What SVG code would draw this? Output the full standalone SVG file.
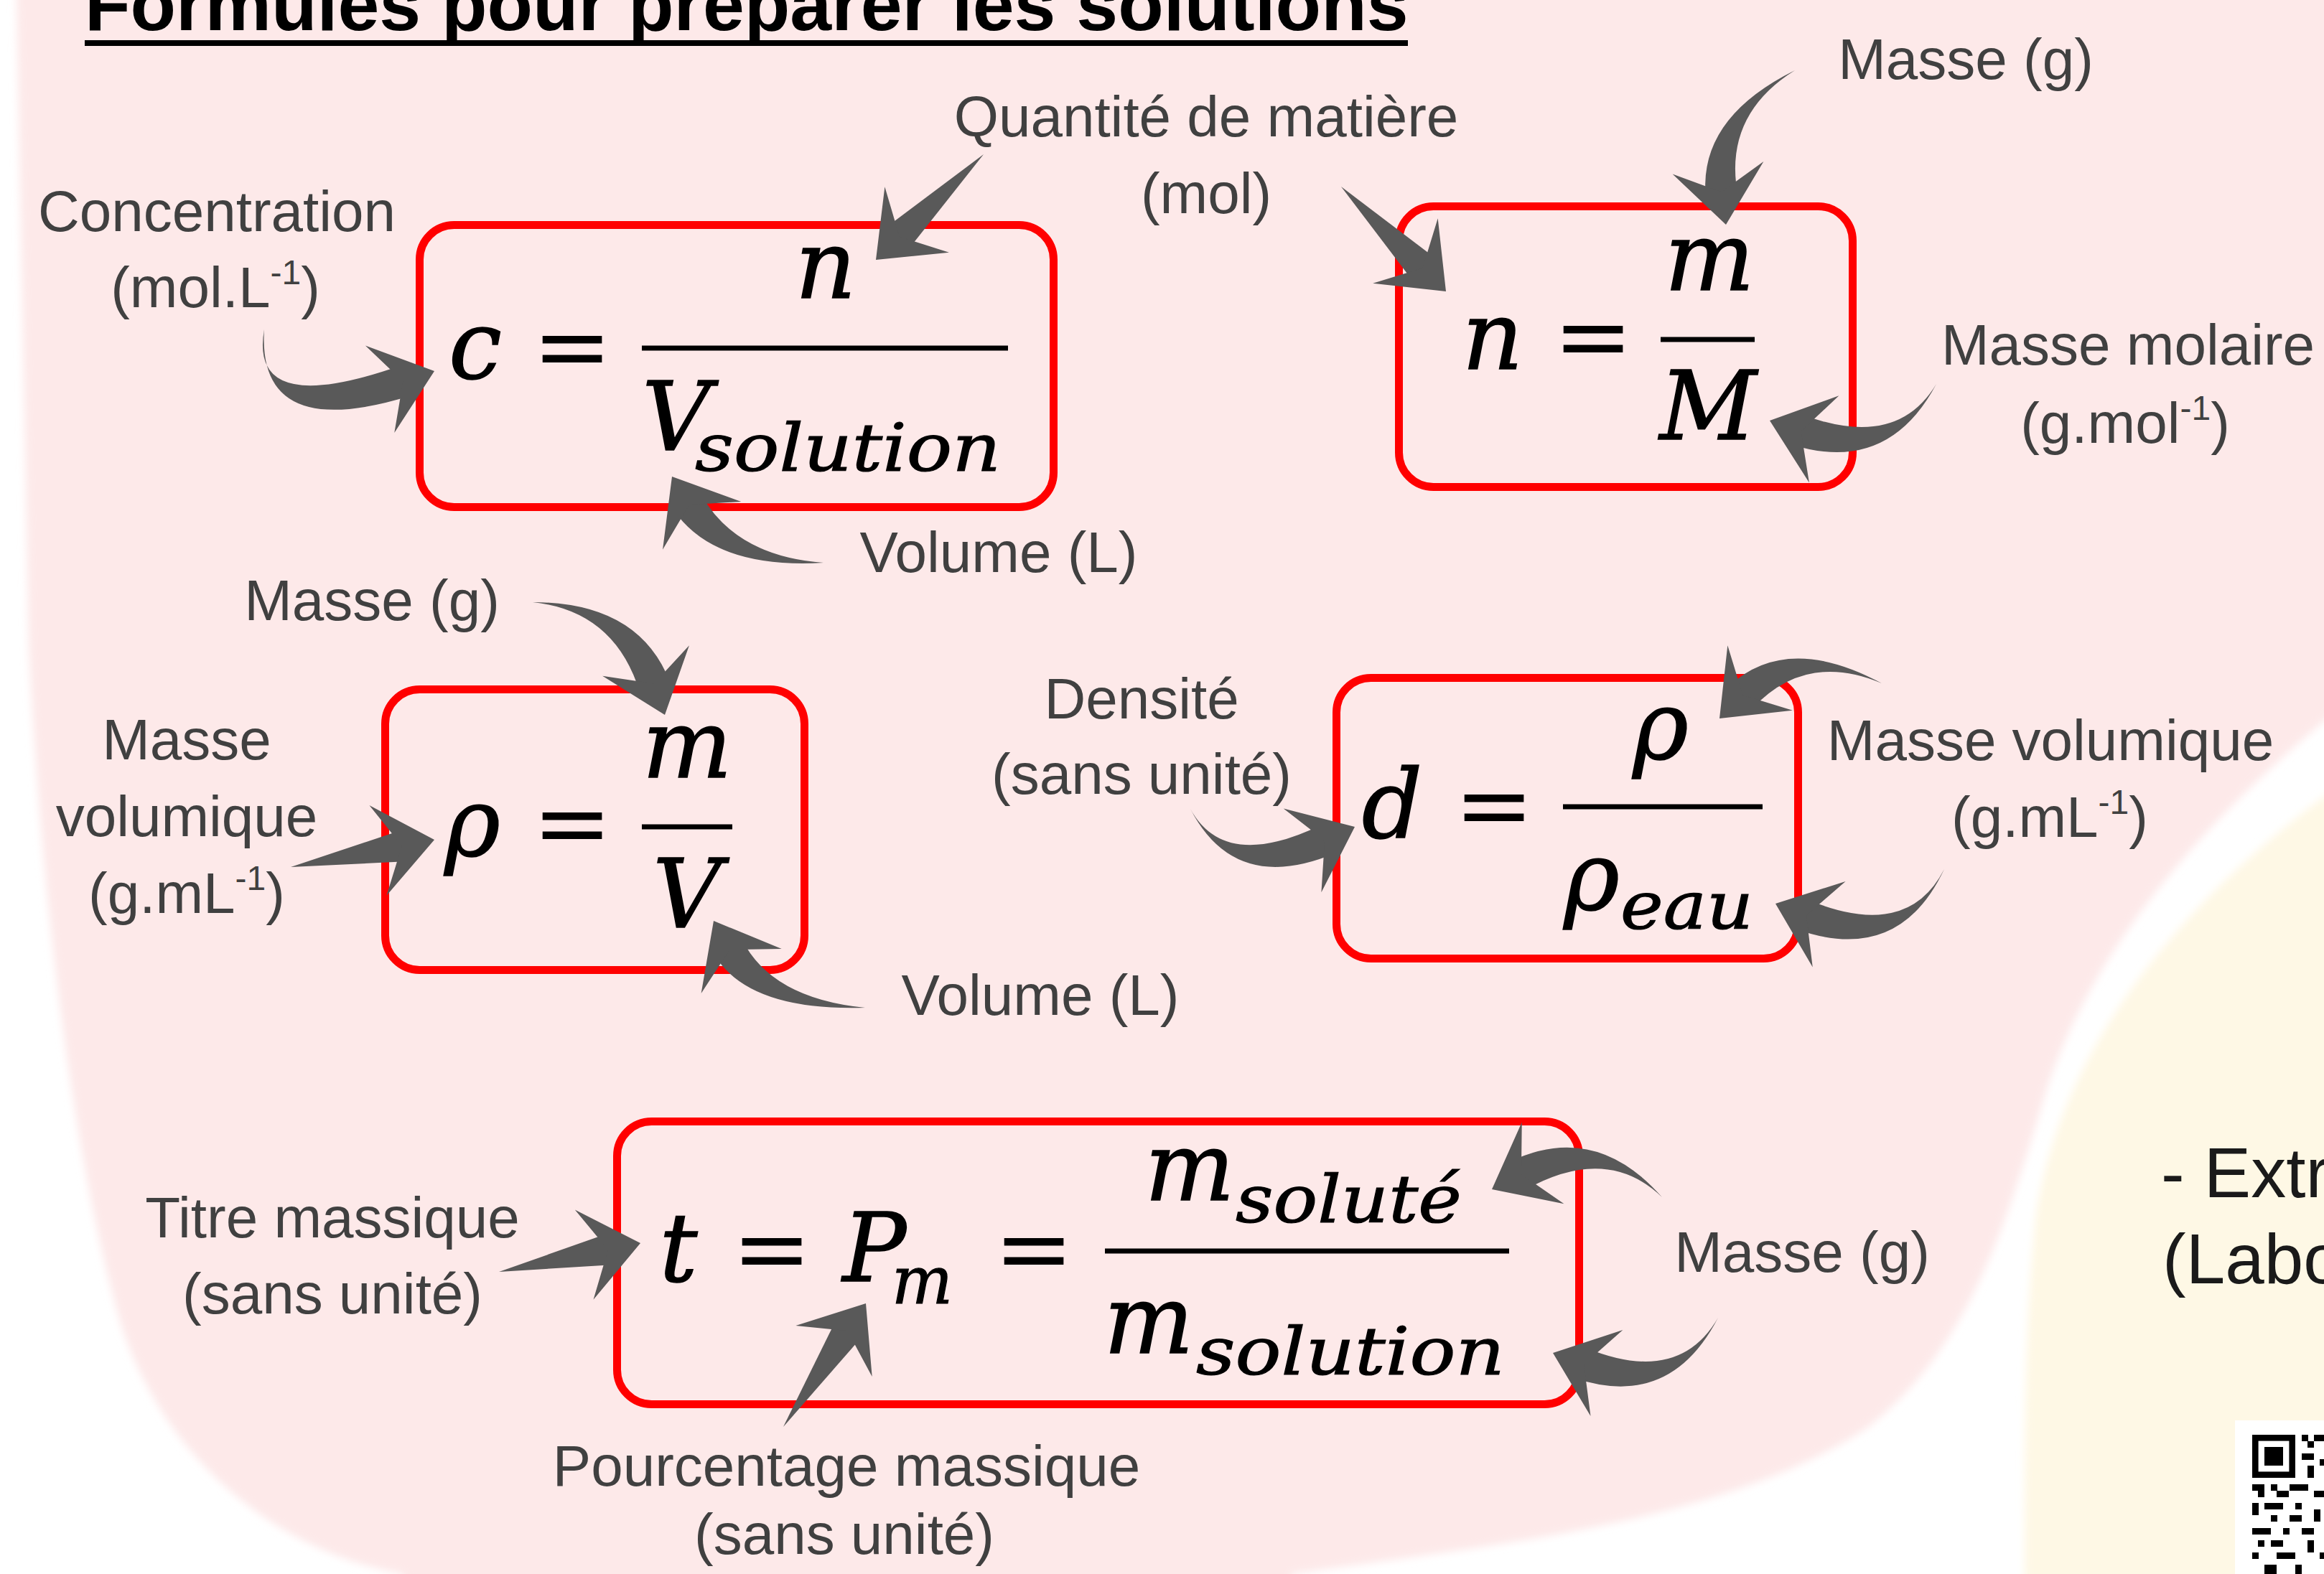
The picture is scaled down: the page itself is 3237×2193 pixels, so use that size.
<svg xmlns="http://www.w3.org/2000/svg" width="3237" height="2193" viewBox="0 0 3237 2193">
<defs>
<style>
.lbl{font-family:"Liberation Sans",Arial,sans-serif;font-size:80px;fill:#404040;text-anchor:middle}
.sup{font-size:48px}
.math{font-family:"DejaVu Serif",serif;font-style:italic;font-size:132px;fill:#000;stroke:#000;stroke-width:1.5;text-anchor:middle}
.sub{font-family:"DejaVu Serif",serif;font-style:italic;font-size:92px;fill:#000;stroke:#000;stroke-width:1.2;text-anchor:start}
.eq{font-family:"DejaVu Serif",serif;font-size:132px;fill:#000;text-anchor:middle}
.box{fill:none;stroke:#ff0000;stroke-width:11}
.bar{stroke:#000;stroke-width:7}
.arr{fill:#595959}
.side{font-family:"Liberation Sans",Arial,sans-serif;font-size:98px;fill:#1a1a1a}
</style>
<filter id="soft" x="-5%" y="-5%" width="110%" height="110%"><feGaussianBlur stdDeviation="6"/></filter>
<path id="ah" d="M0 0 L-80 -64 L-46 0 L-80 64 Z"/>
</defs>
<rect width="3237" height="2193" fill="#ffffff"/>
<g id="background">
<path filter="url(#soft)" fill="#FDE9E9" d="M22 -60 L3300 -60 L3300 950 L3237 1005 C3100 1120 2920 1300 2850 1520 C2790 1720 2740 1880 2600 1990 C2400 2120 2100 2150 1800 2193 L1780 2260 L600 2260 L560 2193 C380 2160 230 2030 170 1850 C110 1650 60 1300 40 900 Z"/>
<path filter="url(#soft)" fill="#FEF8E5" d="M3300 1060 L3237 1110 C3050 1250 2870 1450 2835 1700 C2820 1850 2820 2000 2820 2193 L2820 2260 L3300 2260 Z"/>
</g>
<g id="title">
<text x="118" y="42" font-family="Liberation Sans, Arial, sans-serif" font-weight="bold" font-size="104" fill="#000">Formules pour préparer les solutions</text>
<line x1="118" y1="60" x2="1961" y2="60" stroke="#000" stroke-width="8"/>
</g>
<g id="node-concentration">
<rect class="box" x="584.5" y="313.5" width="883" height="393" rx="48"/>
<text class="math" x="662" y="527">c</text>
<text class="eq" x="797" y="528">=</text>
<line class="bar" x1="894" y1="485" x2="1404" y2="485"/>
<text class="math" x="1150" y="415">n</text>
<text class="math" x="942" y="627">V</text>
<text class="sub" x="968" y="656" textLength="426" lengthAdjust="spacingAndGlyphs">solution</text>
</g>
<g id="node-quantite">
<rect class="box" x="1948.5" y="287.5" width="632" height="391" rx="48"/>
<text class="math" x="2079" y="514">n</text>
<text class="eq" x="2219" y="514">=</text>
<line class="bar" x1="2313" y1="473" x2="2444" y2="473"/>
<text class="math" x="2381" y="404">m</text>
<text class="math" x="2379" y="612">M</text>
</g>
<g id="node-masse-volumique">
<rect class="box" x="536.5" y="960.5" width="584" height="391" rx="48"/>
<text class="math" x="658" y="1192">ρ</text>
<text class="eq" x="797" y="1192">=</text>
<line class="bar" x1="894" y1="1152" x2="1020" y2="1152"/>
<text class="math" x="957" y="1083">m</text>
<text class="math" x="957" y="1292">V</text>
</g>
<g id="node-densite">
<rect class="box" x="1861.5" y="944.5" width="643" height="391" rx="48"/>
<text class="math" x="1939" y="1167">d</text>
<text class="eq" x="2081" y="1167">=</text>
<line class="bar" x1="2177" y1="1124" x2="2455" y2="1124"/>
<text class="math" x="2313" y="1057">ρ</text>
<text class="math" x="2217" y="1267">ρ</text>
<text class="sub" x="2257" y="1294" textLength="185" lengthAdjust="spacingAndGlyphs">eau</text>
</g>
<g id="node-titre">
<rect class="box" x="859.5" y="1562.5" width="1340" height="394" rx="48"/>
<text class="math" x="945" y="1785">t</text>
<text class="eq" x="1075" y="1785">=</text>
<text class="math" x="1218" y="1785">P</text>
<text class="sub" x="1242" y="1816" textLength="85" lengthAdjust="spacingAndGlyphs">m</text>
<text class="eq" x="1440" y="1785">=</text>
<line class="bar" x1="1539" y1="1743" x2="2102" y2="1743"/>
<text class="math" x="1657" y="1672">m</text>
<text class="sub" x="1721" y="1703" textLength="315" lengthAdjust="spacingAndGlyphs">soluté</text>
<text class="math" x="1600" y="1885">m</text>
<text class="sub" x="1666" y="1915" textLength="430" lengthAdjust="spacingAndGlyphs">solution</text>
</g>
<g id="labels">
<g id="lbl-concentration"><text class="lbl" x="302" y="322">Concentration</text><text class="lbl" x="300" y="428">(mol.L<tspan class="sup" dy="-32">-1</tspan><tspan dy="32">)</tspan></text></g>
<g id="lbl-quantite"><text class="lbl" x="1680" y="190">Quantité de matière</text><text class="lbl" x="1680" y="297">(mol)</text></g>
<g id="lbl-masse-1"><text class="lbl" x="2738" y="110">Masse (g)</text></g>
<g id="lbl-masse-molaire"><text class="lbl" x="2964" y="508">Masse molaire</text><text class="lbl" x="2960" y="617">(g.mol<tspan class="sup" dy="-32">-1</tspan><tspan dy="32">)</tspan></text></g>
<g id="lbl-volume-1"><text class="lbl" x="1391" y="797">Volume (L)</text></g>
<g id="lbl-masse-2"><text class="lbl" x="518" y="864">Masse (g)</text></g>
<g id="lbl-masse-volumique-1"><text class="lbl" x="260" y="1058">Masse</text><text class="lbl" x="260" y="1165">volumique</text><text class="lbl" x="260" y="1272">(g.mL<tspan class="sup" dy="-32">-1</tspan><tspan dy="32">)</tspan></text></g>
<g id="lbl-volume-2"><text class="lbl" x="1449" y="1414">Volume (L)</text></g>
<g id="lbl-densite"><text class="lbl" x="1590" y="1001">Densité</text><text class="lbl" x="1590" y="1106">(sans unité)</text></g>
<g id="lbl-masse-volumique-2"><text class="lbl" x="2856" y="1059">Masse volumique</text><text class="lbl" x="2855" y="1166">(g.mL<tspan class="sup" dy="-32">-1</tspan><tspan dy="32">)</tspan></text></g>
<g id="lbl-titre"><text class="lbl" x="463" y="1724">Titre massique</text><text class="lbl" x="463" y="1830">(sans unité)</text></g>
<g id="lbl-pourcentage"><text class="lbl" x="1179" y="2070">Pourcentage massique</text><text class="lbl" x="1176" y="2165">(sans unité)</text></g>
<g id="lbl-masse-3"><text class="lbl" x="2510" y="1772">Masse (g)</text></g>
</g>
<g id="connectors" class="arr">
<path d="M368 459 Q358 618 573 551 L559 509 Q346 584 368 459 Z"/>
<use href="#ah" transform="translate(605 517) rotate(-18.4)"/>
<path d="M1370 215 L1234 317 L1264 349 Z"/>
<use href="#ah" transform="translate(1220 362) rotate(135.6)"/>
<path d="M1147 784 Q1024 775 976 688 L938 710 Q994 793 1147 784 Z"/>
<use href="#ah" transform="translate(936 664) rotate(-121.4)"/>
<path d="M1868 260 L1969 393 L2001 361 Z"/>
<use href="#ah" transform="translate(2014 406) rotate(45)"/>
<path d="M2500 98 Q2365 165 2376 275 L2420 269 Q2401 160 2500 98 Z"/>
<use href="#ah" transform="translate(2404 313) rotate(82.1)"/>
<path d="M2697 535 Q2642 627 2511 578 L2497 620 Q2630 661 2697 535 Z"/>
<use href="#ah" transform="translate(2465 586) rotate(-161.1)"/>
<path d="M742 839 Q856 851 891 964 L933 950 Q890 839 742 839 Z"/>
<use href="#ah" transform="translate(926 996) rotate(70.7)"/>
<path d="M405 1208 L569 1200 L561 1156 Z"/>
<use href="#ah" transform="translate(605 1170) rotate(-10.8)"/>
<path d="M1205 1404 Q1074 1391 1033 1308 L995 1330 Q1042 1409 1205 1404 Z"/>
<use href="#ah" transform="translate(994 1283) rotate(-118.9)"/>
<path d="M1658 1127 Q1720 1247 1859 1189 L1841 1149 Q1706 1215 1658 1127 Z"/>
<use href="#ah" transform="translate(1887 1152) rotate(-24.3)"/>
<path d="M2621 952 Q2489 881 2408 956 L2440 988 Q2515 907 2621 952 Z"/>
<use href="#ah" transform="translate(2395 1001) rotate(135)"/>
<path d="M2708 1211 Q2657 1311 2519 1254 L2503 1295 Q2645 1345 2708 1211 Z"/>
<use href="#ah" transform="translate(2473 1259) rotate(-159)"/>
<path d="M695 1772 L856 1762 L848 1718 Z"/>
<use href="#ah" transform="translate(892 1732) rotate(-11.6)"/>
<path d="M1091 1988 L1201 1862 L1165 1838 Z"/>
<use href="#ah" transform="translate(1206 1816) rotate(-56.2)"/>
<path d="M2315 1668 Q2222 1562 2104 1618 L2124 1658 Q2238 1594 2315 1668 Z"/>
<use href="#ah" transform="translate(2078 1657) rotate(152.7)"/>
<path d="M2393 1836 Q2338 1931 2209 1878 L2193 1920 Q2326 1965 2393 1836 Z"/>
<use href="#ah" transform="translate(2163 1885) rotate(-159.5)"/>
</g>
<g id="side-note">
<text class="side" x="3010" y="1668">- Extr</text>
<text class="side" x="3012" y="1788">(Labo</text>
</g>
<g id="qr">
<rect x="3113" y="1979" width="130" height="220" fill="#ffffff"/>
<rect x="3137" y="1999" width="60" height="60" fill="#000"/>
<rect x="3145.6" y="2007.6" width="42.8" height="42.8" fill="#fff"/>
<rect x="3154" y="2016" width="26" height="26" fill="#000"/>
<g fill="#000">
<rect x="3206" y="1999" width="9" height="9"/><rect x="3223" y="1999" width="14" height="9"/>
<rect x="3214" y="2008" width="9" height="9"/><rect x="3206" y="2025" width="17" height="9"/>
<rect x="3231" y="2033" width="6" height="9"/><rect x="3214" y="2042" width="9" height="17"/>
<rect x="3137" y="2068" width="17" height="9"/><rect x="3163" y="2068" width="9" height="9"/><rect x="3189" y="2068" width="26" height="9"/>
<rect x="3145" y="2077" width="9" height="9"/><rect x="3171" y="2077" width="17" height="9"/><rect x="3223" y="2077" width="14" height="9"/>
<rect x="3137" y="2094" width="9" height="17"/><rect x="3154" y="2094" width="26" height="9"/><rect x="3197" y="2094" width="9" height="9"/>
<rect x="3163" y="2111" width="9" height="9"/><rect x="3189" y="2111" width="17" height="9"/><rect x="3223" y="2103" width="9" height="17"/>
<rect x="3137" y="2129" width="26" height="9"/><rect x="3180" y="2129" width="9" height="9"/><rect x="3206" y="2129" width="17" height="9"/>
<rect x="3145" y="2146" width="9" height="9"/><rect x="3163" y="2146" width="17" height="9"/><rect x="3214" y="2146" width="9" height="17"/>
<rect x="3137" y="2163" width="9" height="9"/><rect x="3171" y="2163" width="26" height="9"/><rect x="3231" y="2163" width="6" height="9"/>
<rect x="3154" y="2180" width="17" height="13"/><rect x="3197" y="2180" width="9" height="13"/>
</g>
</g>
</svg>
